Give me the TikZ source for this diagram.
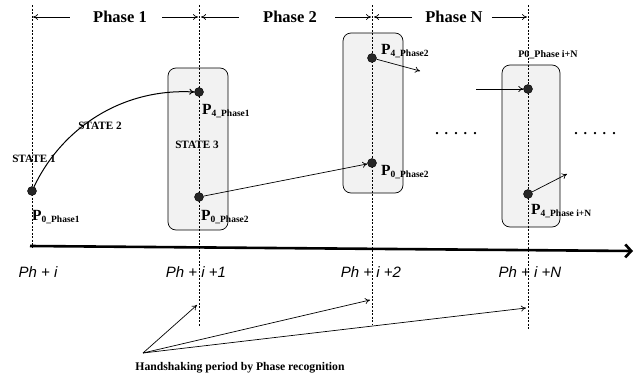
\documentclass[tikz,border=0pt]{standalone}
\usepackage{fontspec}
\setmainfont{Liberation Serif}
\newfontfamily\axfont{Liberation Sans}
\usetikzlibrary{arrows.meta, positioning}

\newcommand{\ptlab}[2]{\textbf{\fontsize{15.5}{16}\selectfont P\raisebox{-2.5pt}{\fontsize{9.5}{10}\selectfont #1\_#2}}}
\newcommand{\phtick}[1]{{\axfont\itshape\fontsize{15}{16}\selectfont Ph + #1}}
\newcommand{\dotrow}{.\hspace{6pt}.\hspace{6pt}.\hspace{6pt}.\hspace{6pt}.}

\tikzset{
  dot/.style={circle, fill=black!85, draw=black, minimum size=9pt, inner sep=0pt},
  frame/.style={draw, rounded corners=8pt, fill=black!5, line width=0.7pt},
  guide/.style={dash pattern=on 2pt off 1.5pt, line width=0.7pt},
  span/.style={-{To[length=5pt,width=6pt]}, line width=0.7pt},
  phlab/.style={font=\bfseries\fontsize{16.5}{18}\selectfont, inner sep=0pt},
  stlab/.style={font=\bfseries\fontsize{11.2}{12}\selectfont, inner sep=0pt},
  ptext/.style={anchor=west, inner sep=0pt},
  tick/.style={inner sep=0pt},
}

\begin{document}
\begin{tikzpicture}[x=1pt, y=-1pt]
  \useasboundingbox (0,0) rectangle (637,383);
  \node[frame, minimum width=60pt, minimum height=162pt] (b1) at (198,149) {};
  \node[frame, minimum width=60pt, minimum height=160pt] (b2) at (373,113) {};
  \node[frame, minimum width=58pt, minimum height=162pt] (b3) at (531,146) {};

  \foreach \n/\x/\y in {1/32/248, 2/199/327, 3/372/325, 4/528/329} {
    \coordinate (l\n) at (\x,5);
    \coordinate (e\n) at (\x,\y);
    \draw[guide] (l\n) -- (e\n);
  }

  \coordinate (ax0) at (30,246);
  \coordinate (ax1) at (633,251);
  \draw[line width=2.6pt, -{Straight Barb[length=6pt,width=13pt]}] (ax0) -- (ax1);

  \node[phlab] (ph1) at (120,17) {Phase 1};
  \node[phlab] (ph2) at (290,17) {Phase 2};
  \node[phlab] (phN) at (454,17) {Phase N};
  \coordinate (t1) at (33,17);
  \coordinate (t2a) at (198,17);
  \coordinate (t2b) at (201,17);
  \coordinate (t3a) at (371,17);
  \coordinate (t3b) at (374,17);
  \coordinate (t4) at (527,17);
  \draw[span, shorten <=23pt] (ph1.west) -- (t1);
  \draw[span, shorten <=15pt] (ph1.east) -- (t2a);
  \draw[span, shorten <=24pt] (ph2.west) -- (t2b);
  \draw[span, shorten <=18pt] (ph2.east) -- (t3a);
  \draw[span, shorten <=13pt] (phN.west) -- (t3b);
  \draw[span, shorten <=9pt] (phN.east) -- (t4);

  \node[dot] (p0a) at (32,191) {};
  \node[dot] (p4a) at (199,92) {};
  \node[dot] (p0b) at (199,197) {};
  \node[dot] (p4b) at (372,58) {};
  \node[dot] (p0c) at (372,163) {};
  \node[dot] (p0n) at (528,89) {};
  \node[dot] (p4n) at (528,194) {};

  \draw[span, line width=1pt] (p0a) .. controls (62,128) and (122,88) .. (p4a.west);
  \draw[span] (p0b) -- (p0c);
  \coordinate (o2) at (420,71);
  \draw[span] (p4b) -- (o2);
  \coordinate (iN) at (476,89);
  \draw[span] (iN) -- (p0n);
  \coordinate (oN) at (567,174);
  \draw[span] (p4n) -- (oN);

  \node[ptext] (lp0a) at (32,217) {\ptlab{0}{Phase1}};
  \node[ptext] (lp4a) at (202,111) {\ptlab{4}{Phase1}};
  \node[ptext] (lp0b) at (201,217) {\ptlab{0}{Phase2}};
  \node[ptext] (lp4b) at (381,51) {\ptlab{4}{Phase2}};
  \node[ptext] (lp0c) at (381,172) {\ptlab{0}{Phase2}};
  \node[ptext] (lp4n) at (531,211) {\ptlab{4}{Phase i+N}};
  \node[inner sep=0pt, font=\bfseries\fontsize{10}{11}\selectfont] (lp0n) at (548,55) {P0\_Phase i+N};

  \node[stlab] (s1) at (34,159) {STATE 1};
  \node[stlab] (s2) at (100,126) {STATE 2};
  \node[stlab] (s3) at (197,145) {STATE 3};

  \node[font=\bfseries\fontsize{14}{14}\selectfont, inner sep=0pt] (d1) at (456,134) {\dotrow};
  \node[font=\bfseries\fontsize{14}{14}\selectfont, inner sep=0pt] (d2) at (595,134) {\dotrow};

  \node[tick] (k0) at (38,272) {\phtick{i}};
  \node[tick] (k1) at (196,272) {\phtick{i +1}};
  \node[tick] (k2) at (371,272) {\phtick{i +2}};
  \node[tick] (kN) at (530,272) {\phtick{i +N}};

  \node[font=\bfseries\fontsize{11.7}{13}\selectfont, inner sep=0pt] (hs) at (240,368) {Handshaking period by Phase recognition};
  \coordinate (hso) at (143,353);
  \coordinate (h1) at (197,305);
  \coordinate (h2) at (370,300);
  \coordinate (h3) at (526,308);
  \draw[span] (hso) -- (h1);
  \draw[span] (hso) -- (h2);
  \draw[span] (hso) -- (h3);
\end{tikzpicture}
\end{document}
